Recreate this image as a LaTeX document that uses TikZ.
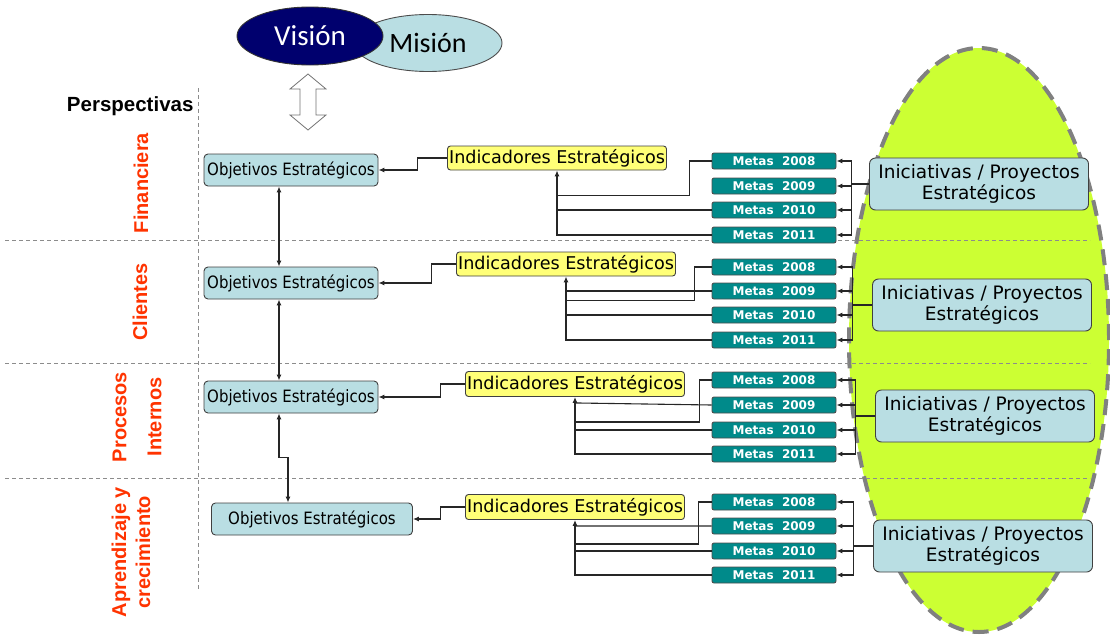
\documentclass[tikz,border=0pt]{standalone}
\usepackage{fontspec}
\setmainfont{DejaVu Sans}
\newfontfamily\objfont{DejaVu Sans}[FakeStretch=0.88]
\newfontfamily\persfont{Liberation Sans}
\newfontfamily\visfont{Carlito}
\usetikzlibrary{arrows.meta,shapes.geometric}

\definecolor{objblue}{RGB}{185,222,227}
\definecolor{indyellow}{RGB}{255,255,119}
\definecolor{metateal}{RGB}{0,138,138}
\definecolor{visnavy}{RGB}{0,0,110}
\definecolor{limegreen}{RGB}{204,255,51}
\definecolor{persred}{RGB}{255,51,0}

\tikzset{
	objbox/.style={draw=black!75, line width=0.9pt, fill=objblue, rounded corners=4pt, minimum width=174pt, minimum height=32pt, inner sep=0pt, font=\objfont\fontsize{17}{20}\selectfont},
	indbox/.style={draw=black!75, line width=0.9pt, fill=indyellow, rounded corners=3pt, minimum width=219pt, minimum height=24pt, inner sep=0pt, font=\fontsize{17.6}{20}\selectfont},
	metabox/.style={draw=black!70, line width=0.9pt, fill=metateal, text=white, rounded corners=2pt, minimum width=124pt, minimum height=16pt, inner sep=0pt, font=\bfseries\fontsize{12}{14}\selectfont},
	inibox/.style={draw=black!75, line width=0.9pt, fill=objblue, rounded corners=6pt, minimum width=219pt, minimum height=52pt, inner sep=0pt, align=center, font=\fontsize{18.5}{20.5}\selectfont},
	perslbl/.style={rotate=90, text=persred, align=center, font=\persfont\bfseries\fontsize{20}{24}\selectfont},
	wire/.style={line width=1.1pt, draw=black!85},
	conn/.style={wire, -{Latex[length=6pt,width=5pt]}},
	both/.style={wire, {Latex[length=6pt,width=5pt]}-{Latex[length=6pt,width=5pt]}},
	sepline/.style={draw=black!45, line width=0.8pt, dash pattern=on 4pt off 3pt}
}

\begin{document}
\begin{tikzpicture}[x=1pt, y=-1pt]
			%%%%% START %%%%%
			\useasboundingbox (0,0) rectangle (1110,637);
			
			\draw[fill=limegreen, draw=black!50, line width=4pt, dash pattern=on 16pt off 9pt] (979,340) ellipse [x radius=130pt, y radius=292pt];
			
			\draw[sepline] (5,240) -- (1090,240);
			\draw[sepline] (5,363) -- (1090,363);
			\draw[sepline] (5,478) -- (1090,478);
			\draw[sepline] (198,88) -- (198,590);
			
			\node[draw=black!70, line width=0.9pt, fill=objblue, ellipse, minimum width=148pt, minimum height=57pt, font=\visfont\fontsize{28}{30}\selectfont] (mision) at (428,43) {Misión};
			\node[draw=black!80, line width=0.9pt, fill=visnavy, text=white, ellipse, minimum width=146pt, minimum height=58pt, font=\visfont\fontsize{29}{31}\selectfont] (vision) at (310,36) {Visión};
			
			\draw[black!55, fill=white, line width=0.8pt] (308,74) -- (326,89) -- (316,89) -- (316,115) -- (326,115) -- (308,130) -- (290,115) -- (300,115) -- (300,89) -- (290,89) -- cycle;
			
			\node[anchor=east, font=\persfont\bfseries\fontsize{20.5}{24}\selectfont] (persp) at (197,106) {Perspectivas};
			
			\node[perslbl] (pfin) at (141,183) {Financiera};
			\node[perslbl] (pcli) at (140,302) {Clientes};
			\node[perslbl] (ppro) at (137,417) {Procesos\\[11pt]Internos};
			\node[perslbl] (papr) at (131,552) {Aprendizaje y\\crecimiento};
			
			% Financiera
			\node[objbox] (obj1) at (291,170) {Objetivos Estratégicos};
			\node[indbox] (ind1) at (557,158) {Indicadores Estratégicos};
			\node[metabox] (m1a) at (774,161) {Metas~ 2008};
			\node[metabox] (m1b) at (774,186) {Metas~ 2009};
			\node[metabox] (m1c) at (774,210) {Metas~ 2010};
			\node[metabox] (m1d) at (774,235) {Metas~ 2011};
			\node[inibox] (ini1) at (979,184) {Iniciativas / Proyectos\\Estratégicos};
			
			% Clientes
			\node[objbox] (obj2) at (291,283) {Objetivos Estratégicos};
			\node[indbox] (ind2) at (566,264) {Indicadores Estratégicos};
			\node[metabox] (m2a) at (774,267) {Metas~ 2008};
			\node[metabox] (m2b) at (774,291) {Metas~ 2009};
			\node[metabox] (m2c) at (774,315) {Metas~ 2010};
			\node[metabox] (m2d) at (774,340) {Metas~ 2011};
			\node[inibox] (ini2) at (982,305) {Iniciativas / Proyectos\\Estratégicos};
			
			% Procesos Internos
			\node[objbox] (obj3) at (291,397) {Objetivos Estratégicos};
			\node[indbox, minimum height=25pt] (ind3) at (575,384) {Indicadores Estratégicos};
			\node[metabox] (m3a) at (774,380) {Metas~ 2008};
			\node[metabox] (m3b) at (774,405) {Metas~ 2009};
			\node[metabox] (m3c) at (774,430) {Metas~ 2010};
			\node[metabox] (m3d) at (774,454) {Metas~ 2011};
			\node[inibox] (ini3) at (985,416) {Iniciativas / Proyectos\\Estratégicos};
			
			% Aprendizaje y crecimiento
			\node[objbox, minimum width=201pt] (obj4) at (312,519) {Objetivos Estratégicos};
			\node[indbox, minimum height=25pt] (ind4) at (575,507) {Indicadores Estratégicos};
			\node[metabox] (m4a) at (774,502) {Metas~ 2008};
			\node[metabox] (m4b) at (774,526) {Metas~ 2009};
			\node[metabox] (m4c) at (774,551) {Metas~ 2010};
			\node[metabox] (m4d) at (774,575) {Metas~ 2011};
			\node[inibox] (ini4) at (983,546) {Iniciativas / Proyectos\\Estratégicos};
			
			% objetivos <-> objetivos
			\draw[both] ([xshift=-12pt]obj1.south) -- ([xshift=-12pt]obj2.north);
			\draw[both] ([xshift=-12pt]obj2.south) -- ([xshift=-12pt]obj3.north);
			\draw[both] ([xshift=-12pt]obj3.south) -- ++(0,44) -| ([xshift=-24pt]obj4.north);
			
			% indicadores -> objetivos
			\draw[conn] (ind1.west) -- ++(-30,0) |- (obj1.east);
			\draw[conn] (ind2.west) -- ++(-25,0) |- (obj2.east);
			\draw[conn] (ind3.west) -- ++(-25,0) |- (obj3.east);
			\draw[conn] (ind4.west) -- ++(-25,0) |- (obj4.east);
			
			% metas -> indicadores
			\draw[wire] (m1a.west) -- ++(-22,0) |- ([yshift=-25pt]ind1.south);
			\draw[wire] (m1c.west) -- (m1c.west -| ind1.south);
			\draw[conn] (m1d.west) -| (ind1.south);
			
			\draw[wire] (m2a.west) -- ++(-17,0) |- ([yshift=-24pt]ind2.south);
			\draw[wire] (m2b.west) -- (m2b.west -| ind2.south);
			\draw[wire] (m2c.west) -- (m2c.west -| ind2.south);
			\draw[conn] (m2d.west) -| (ind2.south);
			
			\draw[wire] (m3a.west) -- ++(-12,0) |- ([yshift=-25pt]ind3.south);
			\draw[wire] (m3b.west) -- ([yshift=-6pt]ind3.south);
			\draw[wire] (m3c.west) -- (m3c.west -| ind3.south);
			\draw[conn] (m3d.west) -| (ind3.south);
			
			\draw[wire] (m4a.west) -- ++(-13,0) |- ([yshift=-24pt]ind4.south);
			\draw[wire] (m4b.west) -- ([yshift=-6pt]ind4.south);
			\draw[wire] (m4c.west) -- (m4c.west -| ind4.south);
			\draw[conn] (m4d.west) -| (ind4.south);
			
			% iniciativas -> metas
			\coordinate (bus1) at ([xshift=-18pt]ini1.west);
			\draw[wire] (ini1.west) -- (bus1);
			\draw[conn] (bus1) |- (m1a.east);
			\draw[conn] (bus1) |- (m1b.east);
			\draw[conn] (bus1) |- (m1c.east);
			\draw[conn] (bus1) |- (m1d.east);
			
			\coordinate (bus2) at ([xshift=-20pt]ini2.west);
			\draw[wire] (ini2.west) -- (bus2);
			\draw[conn] (bus2) |- (m2a.east);
			\draw[conn] (bus2) |- (m2b.east);
			\draw[conn] (bus2) |- (m2c.east);
			\draw[conn] (bus2) |- (m2d.east);
			
			\coordinate (bus3) at ([xshift=-20pt]ini3.west);
			\draw[wire] (ini3.west) -- (bus3);
			\draw[conn] (bus3) |- (m3a.east);
			\draw[conn] (bus3) |- (m3b.east);
			\draw[conn] (bus3) |- (m3c.east);
			\draw[conn] (bus3) |- (m3d.east);
			
			\coordinate (bus4) at ([xshift=-20pt]ini4.west);
			\draw[wire] (ini4.west) -- (bus4);
			\draw[conn] (bus4) |- (m4a.east);
			\draw[conn] (bus4) |- (m4b.east);
			\draw[conn] (bus4) |- (m4c.east);
			\draw[conn] (bus4) |- (m4d.east);
			
			%%%%% END %%%%%
\end{tikzpicture}
\end{document}
